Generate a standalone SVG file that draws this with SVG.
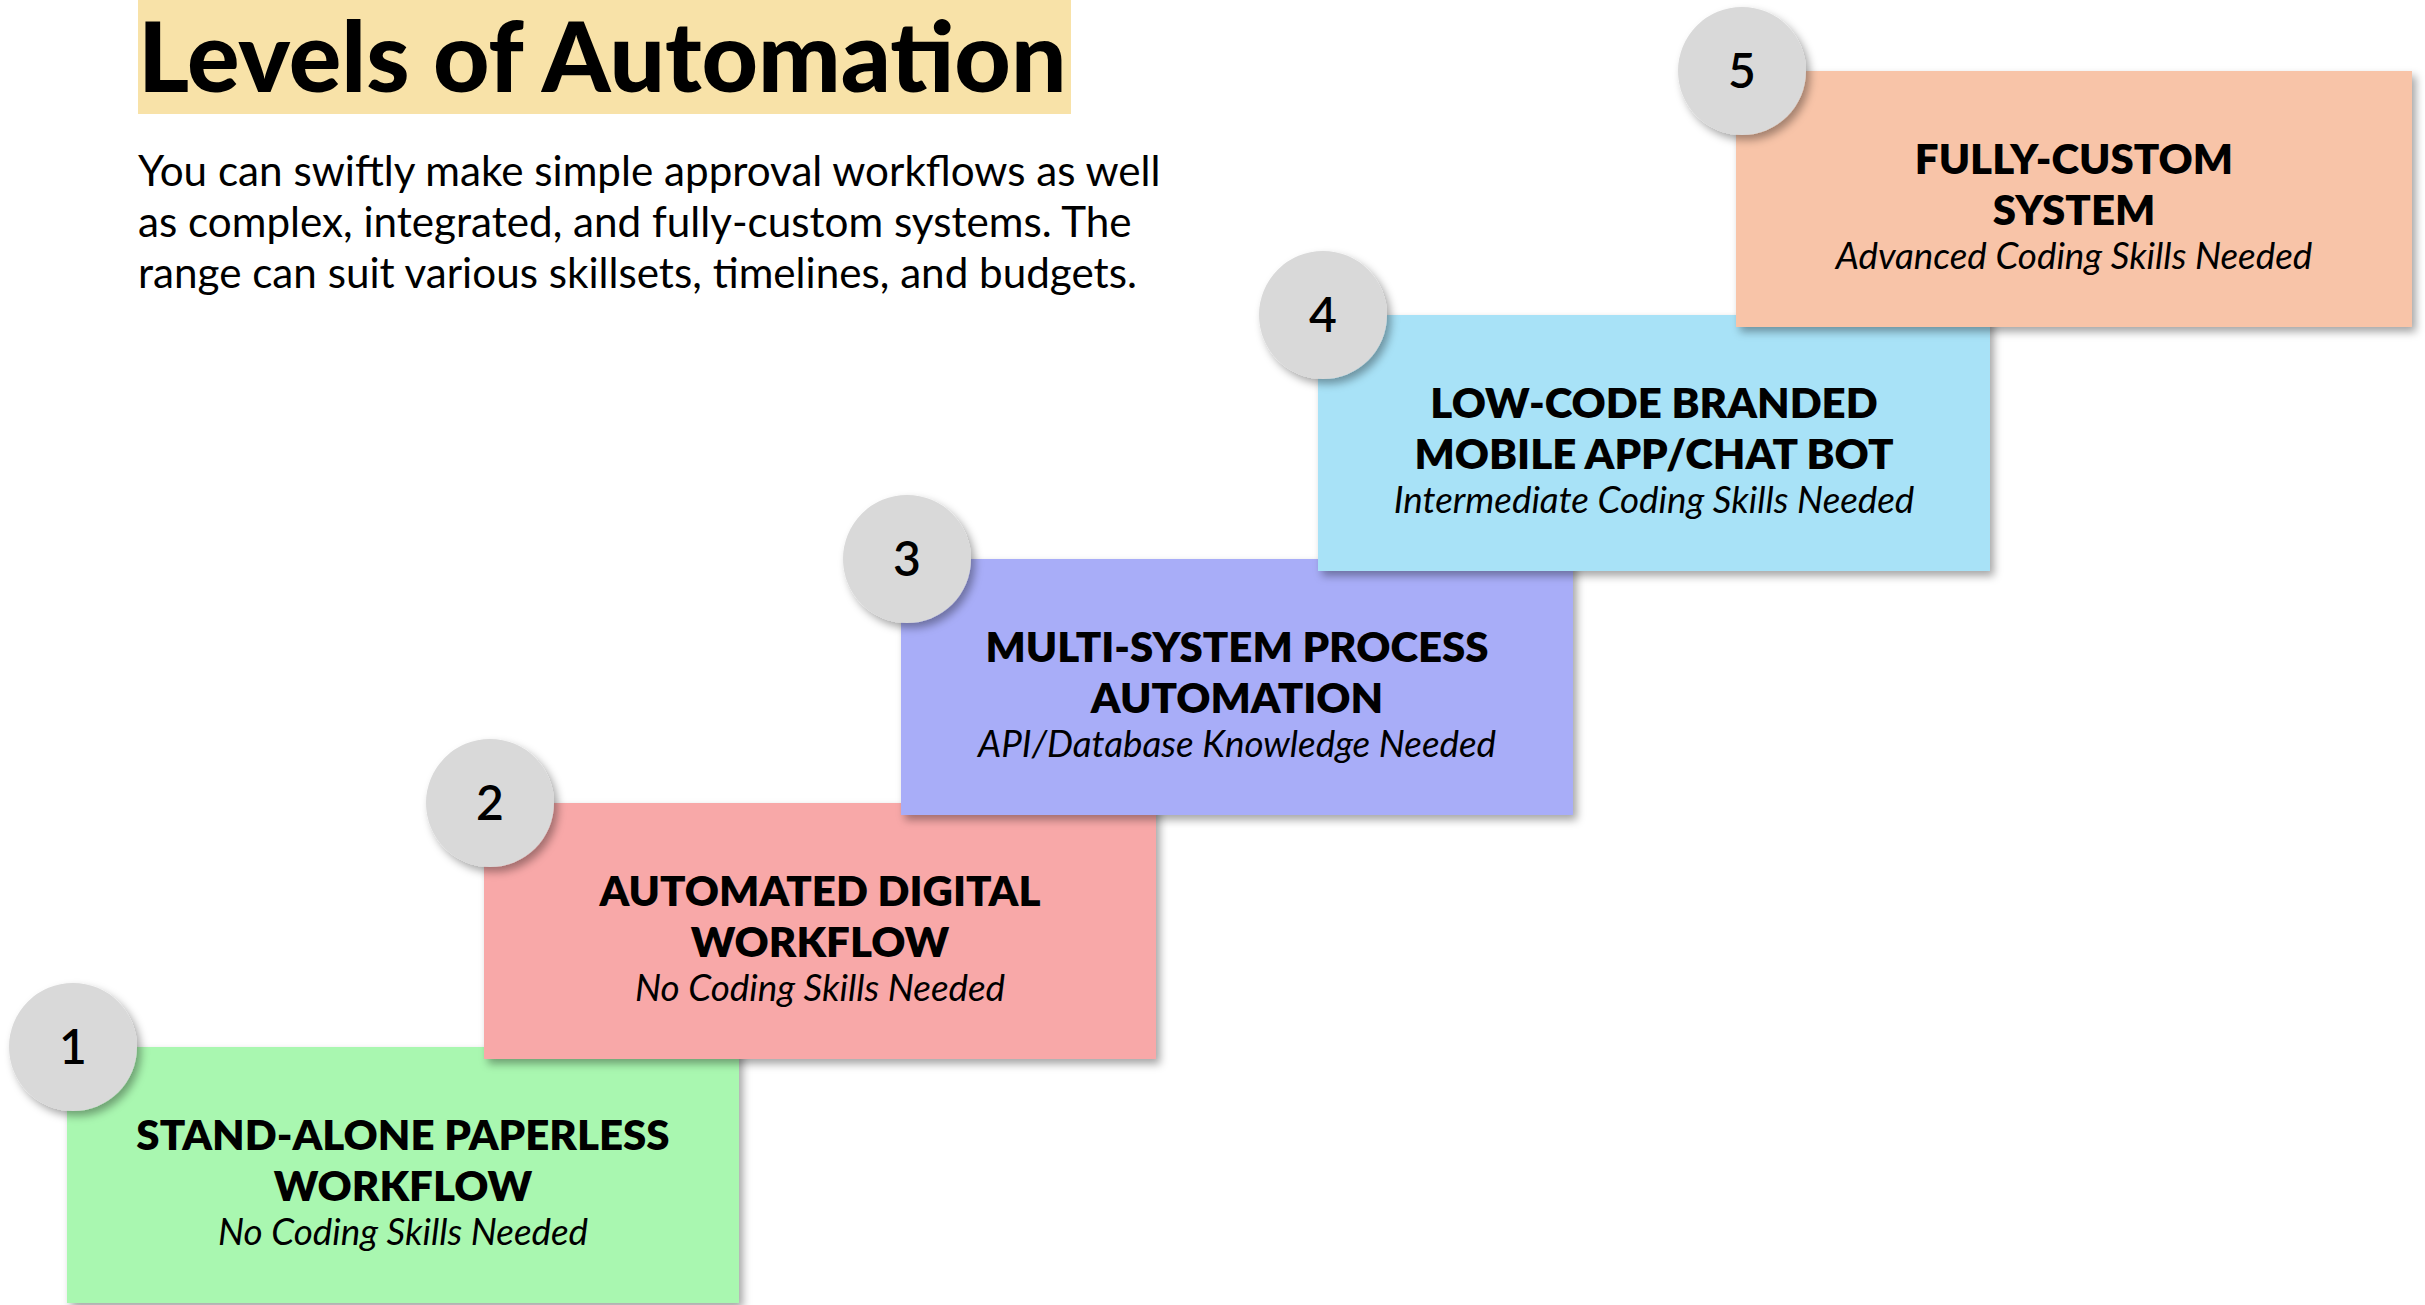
<svg xmlns="http://www.w3.org/2000/svg" width="2425" height="1305" viewBox="0 0 2425 1305">
<style>
text{font-family:Lato,"Open Sans","Liberation Sans",sans-serif;fill:#000}
.h{font-size:98px;font-weight:900}
.p{font-size:42.2px;font-weight:400}
.t{font-size:42px;font-weight:800;text-anchor:middle}
.s{font-size:36.8px;font-style:italic;font-weight:400;text-anchor:middle}
.n{font-size:48px;font-weight:600;text-anchor:middle}
.c{fill:#d9d9d9}
</style>
<defs>
<filter id="sh" x="-10%" y="-10%" width="125%" height="125%">
<feDropShadow dx="4" dy="5" stdDeviation="4" flood-color="#000" flood-opacity="0.35"/>
</filter>
<filter id="csh" x="-20%" y="-20%" width="150%" height="150%">
<feDropShadow dx="4" dy="5" stdDeviation="4" flood-color="#000" flood-opacity="0.35"/>
</filter>
</defs>
<rect width="2425" height="1305" fill="#fff"/>
<g id="header">
<rect x="138" y="0" width="933" height="114" fill="#f8e2a8"/>
<text class="h" x="138" y="92">Levels of Automation</text>
<text class="p" x="138" y="186">You can swiftly make simple approval workflows as well</text>
<text class="p" x="138" y="237">as complex, integrated, and fully-custom systems. The</text>
<text class="p" x="138" y="288">range can suit various skillsets, timelines, and budgets.</text>
</g>
<g id="connectors"></g>
<g id="level1">
<rect x="67" y="1047" width="672" height="256" fill="#a9f7b0" filter="url(#sh)"/>
<text class="t" x="403" y="1150">STAND-ALONE PAPERLESS</text>
<text class="t" x="403" y="1201">WORKFLOW</text>
<text class="s" x="403" y="1245">No Coding Skills Needed</text>
<circle class="c" cx="73" cy="1047" r="64" filter="url(#csh)"/>
<text class="n" x="73" y="1064">1</text>
</g>
<g id="level2">
<rect x="484" y="803" width="672" height="256" fill="#f8a8a8" filter="url(#sh)"/>
<text class="t" x="820" y="906">AUTOMATED DIGITAL</text>
<text class="t" x="820" y="957">WORKFLOW</text>
<text class="s" x="820" y="1001">No Coding Skills Needed</text>
<circle class="c" cx="490" cy="803" r="64" filter="url(#csh)"/>
<text class="n" x="490" y="820">2</text>
</g>
<g id="level3">
<rect x="901" y="559" width="672" height="256" fill="#a8adf8" filter="url(#sh)"/>
<text class="t" x="1237" y="662">MULTI-SYSTEM PROCESS</text>
<text class="t" x="1237" y="713">AUTOMATION</text>
<text class="s" x="1237" y="757">API/Database Knowledge Needed</text>
<circle class="c" cx="907" cy="559" r="64" filter="url(#csh)"/>
<text class="n" x="907" y="576">3</text>
</g>
<g id="level4">
<rect x="1318" y="315" width="672" height="256" fill="#a8e2f7" filter="url(#sh)"/>
<text class="t" x="1654" y="418">LOW-CODE BRANDED</text>
<text class="t" x="1654" y="469">MOBILE APP/CHAT BOT</text>
<text class="s" x="1654" y="513">Intermediate Coding Skills Needed</text>
<circle class="c" cx="1323" cy="315" r="64" filter="url(#csh)"/>
<text class="n" x="1323" y="332">4</text>
</g>
<g id="level5">
<rect x="1736" y="71" width="676" height="256" fill="#f8c4a8" filter="url(#sh)"/>
<text class="t" x="2074" y="174">FULLY-CUSTOM</text>
<text class="t" x="2074" y="225">SYSTEM</text>
<text class="s" x="2074" y="269">Advanced Coding Skills Needed</text>
<circle class="c" cx="1742" cy="71" r="64" filter="url(#csh)"/>
<text class="n" x="1742" y="88">5</text>
</g>
</svg>
